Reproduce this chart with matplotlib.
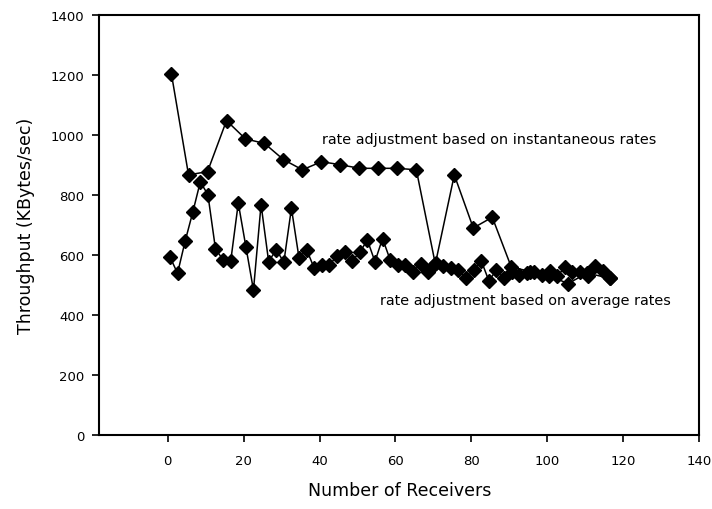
import matplotlib.pyplot as plt

# ---------------------------------------------------------------------
# Data
# ---------------------------------------------------------------------

# rate adjustment based on instantaneous rates
INST_X = [1, 5.5, 10.5, 15.5, 20.5, 25.5, 30.5, 35.5, 40.5, 45.5, 50.5, 55.5,
          60.5, 65.5, 70.5, 75.5, 80.5, 85.5, 90.5, 95.5, 100.5, 105.5, 110.5, 116.5]
INST_Y = [1203, 867, 878, 1048, 987, 972, 918, 884, 911, 901, 889, 889,
          889, 884, 570, 867, 690, 726, 560, 545, 530, 505, 540, 522]

# rate adjustment based on average rates
AVG_X = [0.6, 2.6, 4.6, 6.6, 8.6, 10.6, 12.6, 14.6, 16.6, 18.6, 20.6, 22.6,
         24.6, 26.6, 28.6, 30.6, 32.6, 34.6, 36.6, 38.6, 40.6, 42.6, 44.6, 46.6,
         48.6, 50.6, 52.6, 54.6, 56.6, 58.6, 60.6, 62.6, 64.6, 66.6, 68.6, 70.6,
         72.6, 74.6, 76.6, 78.6, 80.6, 82.6, 84.6, 86.6, 88.6, 90.6, 92.6, 94.6,
         96.6, 98.6, 100.6, 102.6, 104.6, 106.6, 108.6, 110.6, 112.6, 114.6, 116.6]
AVG_Y = [594, 539, 646, 742, 844, 801, 620, 584, 579, 773, 628, 483,
         768, 578, 618, 576, 756, 590, 618, 556, 568, 567, 597, 610,
         581, 609, 650, 578, 655, 584, 567, 567, 544, 570, 542, 573,
         564, 556, 551, 522, 551, 581, 514, 550, 525, 542, 533, 540,
         544, 533, 548, 529, 559, 542, 544, 529, 562, 548, 522]

X_TICKS = [0, 20, 40, 60, 80, 100, 120, 140]
Y_TICKS = [0, 200, 400, 600, 800, 1000, 1200, 1400]

plt.rcParams["font.family"] = ["DejaVu Sans"]

fig = plt.figure(figsize=(7.12, 5.10), dpi=100)
ax = fig.add_axes([0.1395, 0.1451, 0.8425, 0.8235])

style = dict(color="black", lw=1.1, marker="D", ms=7.6, mfc="black", mec="black")
ax.plot(INST_X, INST_Y, **style)
ax.plot(AVG_X, AVG_Y, **style)

ax.set_xlim(-18, 140)
ax.set_ylim(0, 1400)
ax.set_xticks(X_TICKS)
ax.set_yticks(Y_TICKS)
ax.tick_params(direction="out", length=5, width=1.2, labelsize=9.5, pad=6)
ax.tick_params(axis="x", pad=9)
for s in ax.spines.values():
    s.set_linewidth(1.5)

ax.set_xlabel("Number of Receivers", fontsize=12.5, labelpad=10)
ax.set_ylabel("Throughput (KBytes/sec)", fontsize=12.5, labelpad=11)

ax.text(40.6, 987, "rate adjustment based on instantaneous rates",
        fontsize=10.4, va="center", ha="left")
ax.text(55.9, 450, "rate adjustment based on average rates",
        fontsize=10.4, va="center", ha="left")

fig.savefig("out.png", dpi=100)
